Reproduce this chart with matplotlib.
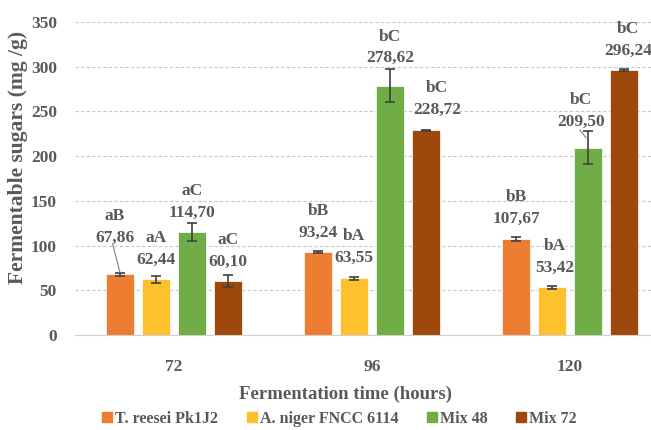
import numpy as np
import matplotlib
matplotlib.use("Agg")
import matplotlib.pyplot as plt
from matplotlib.lines import Line2D

plt.rcParams['font.family'] = ['Liberation Serif', 'DejaVu Serif']
plt.rcParams['font.weight'] = 'bold'

# data
times = ["72", "96", "120"]
series = ["T. reesei Pk1J2", "A. niger FNCC 6114", "Mix 48", "Mix 72"]
colors = ["#ED7D31", "#FFC02E", "#70AD47", "#9E480E"]
values = [
    [67.86, 93.24, 107.67],
    [62.44, 63.55, 53.42],
    [114.70, 278.62, 209.50],
    [60.10, 228.72, 296.24],
]
errors = [
    [2.0, 1.0, 2.0],
    [4.0, 1.5, 1.5],
    [10.0, 18.5, 18.5],
    [6.5, 1.0, 1.0],
]
letters = [
    ["aB", "bB", "bB"],
    ["aA", "bA", "bA"],
    ["aC", "bC", "bC"],
    ["aC", "bC", "bC"],
]
# where each data label was moved to (x shift from bar, height of number line)
lab_dx = [
    [-0.025, 0.0, 0.0],
    [0.0, 0.0, 0.015],
    [0.0, 0.0, -0.035],
    [0.0, 0.056, 0.02],
]
lab_y = [
    [108.5, 114.4, 129.7],
    [83.9, 86.1, 74.9],
    [136.8, 309.7, 238.2],
    [82.0, 251.6, 317.6],
]

txt = "#595959"
fig = plt.figure(figsize=(6.51, 4.30), dpi=100)
ax = fig.add_axes([75 / 651, 95 / 430, 1 - 75 / 651, 313 / 430])

x = np.arange(len(times))
step = 0.1818
width = 0.144
for i, name in enumerate(series):
    pos = x + (i - 1.5) * step
    ax.bar(pos, values[i], width, color=colors[i], edgecolor="white",
           linewidth=0.5, label=name, zorder=2)
    ax.errorbar(pos, values[i], yerr=errors[i], fmt="none", ecolor="#404040",
                elinewidth=1.2, capsize=3.5, capthick=1.2, zorder=3)
    for j in range(len(times)):
        lx = pos[j] + lab_dx[i][j]
        ly = lab_y[i][j]
        num = f"{values[i][j]:.2f}".replace(".", ",")
        ax.text(lx, ly, num, ha="center", va="center", fontsize=12.5,
                color=txt, fontweight="bold", zorder=4)
        ax.annotate(letters[i][j], xy=(lx, ly), xytext=(0, 15.5),
                    textcoords="offset points", ha="center", va="center",
                    fontsize=12.5, color=txt, fontweight="bold", zorder=4)

# leader lines for the two labels that were pulled away
p0 = x[0] - 1.5 * step
ax.plot([p0 + lab_dx[0][0] - 0.012, p0], [lab_y[0][0] - 7, values[0][0] + errors[0][0]],
        color="#7f7f7f", lw=0.8, zorder=4)
p2 = x[2] + 0.5 * step
ax.plot([p2 + lab_dx[2][2] - 0.005, p2 - 0.01], [lab_y[2][2] - 9, values[2][2] + 11],
        color="#7f7f7f", lw=0.8, zorder=4)

ax.set_xlim(-0.5, (651 - 75) / 198 - 0.5)
ax.set_ylim(0, 350)
ax.set_yticks(np.arange(0, 351, 50))
ax.set_xticks(x)
ax.set_xticklabels(times)
ax.yaxis.grid(True, color="#c8c8c8", linestyle=(0, (3, 2)), linewidth=0.8, zorder=0)
ax.set_axisbelow(True)
for s in ["top", "right", "left"]:
    ax.spines[s].set_visible(False)
ax.spines["bottom"].set_color("#d0d0d0")
ax.tick_params(axis="both", length=0, labelsize=12.5, labelcolor=txt)
ax.tick_params(axis="y", pad=13)
ax.tick_params(axis="x", pad=17)
for lab in ax.get_xticklabels() + ax.get_yticklabels():
    lab.set_fontweight("bold")

fig.text(346 / 651, 1 - 394 / 430, "Fermentation time (hours)", ha="center",
         va="center", fontsize=13.5, color=txt, fontweight="bold")
fig.text(18 / 651, 1 - 157 / 430, "Fermentable sugars (mg /g)", ha="center",
         va="center", rotation=90, fontsize=15.5, color=txt, fontweight="bold")

handles = [Line2D([], [], marker="s", linestyle="none", markersize=6.5,
                  markerfacecolor=c, markeredgecolor=c) for c in colors]
leg = fig.legend(handles, series, loc="center", bbox_to_anchor=(338 / 651, 1 - 419 / 430),
                 ncol=4, frameon=False, fontsize=11.5, handletextpad=0.0,
                 columnspacing=1.6, handlelength=1.0)
for t in leg.get_texts():
    t.set_color(txt)
    t.set_fontweight("bold")

fig.savefig("out.png", dpi=100)
